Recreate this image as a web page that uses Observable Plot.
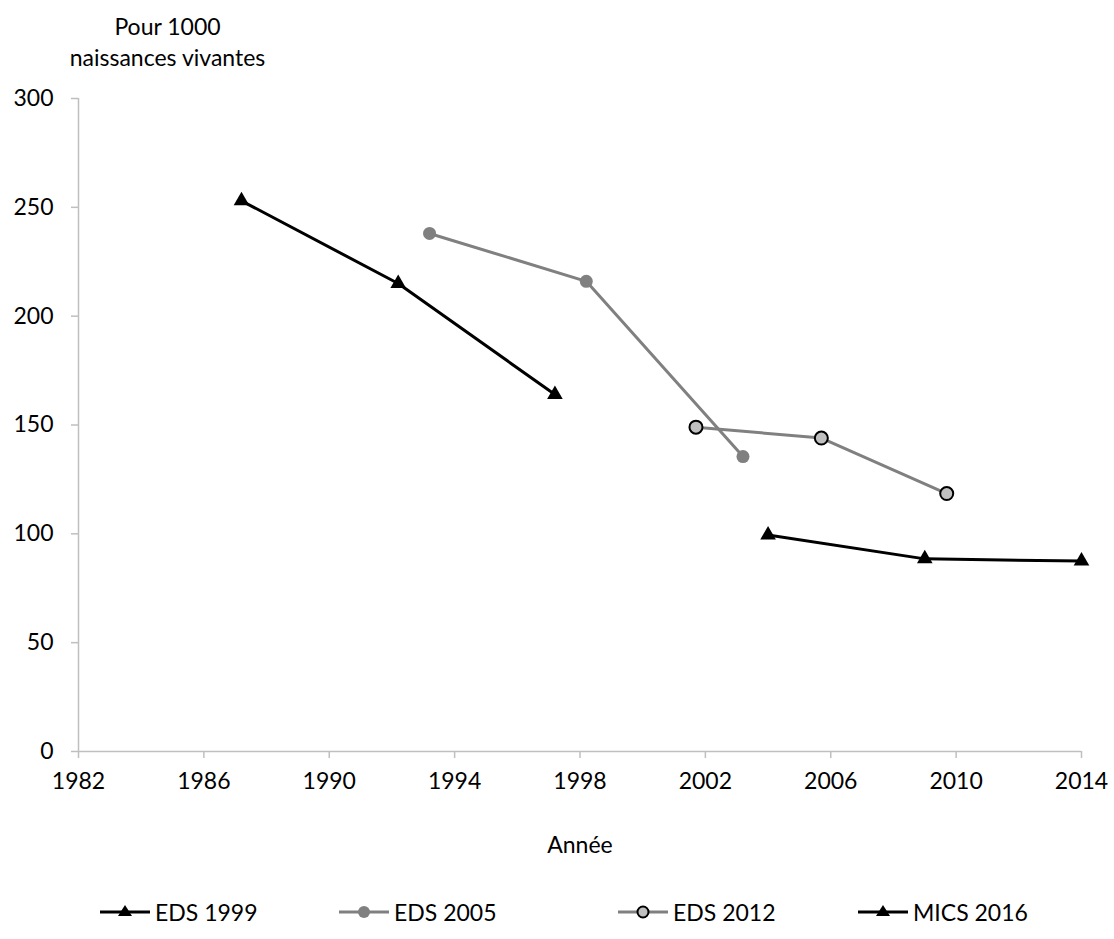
<!DOCTYPE html>
<html>
<head>
<meta charset="utf-8">
<script src="https://cdn.jsdelivr.net/npm/d3@7"></script>
<script src="https://cdn.jsdelivr.net/npm/@observablehq/plot@0.6"></script>
<style>
  body { margin: 0; background: #fff; font-family: Lato, "Open Sans", sans-serif; }
  #wrap { position: relative; width: 1114px; height: 939px; }
  #legend { position: absolute; left: 0; top: 897px; width: 1114px; height: 30px; }
  .item { position: absolute; top: 0; display: flex; align-items: center; font-size: 23px; color: #000; height: 30px; }
  .item svg { margin-right: 5px; }
</style>
</head>
<body>
<div id="wrap"><div id="chart"></div><div id="legend"></div></div>
<script>
// ---- data ----
const xTicks = [1982, 1986, 1990, 1994, 1998, 2002, 2006, 2010, 2014];
const yTicks = [0, 50, 100, 150, 200, 250, 300];

const eds1999Years = [1987.2, 1992.2, 1997.2];
const eds1999Values = [253, 215, 164];

const eds2005Years = [1993.2, 1998.2, 2003.2];
const eds2005Values = [238, 216, 135.5];

const eds2012Years = [2001.7, 2005.7, 2009.7];
const eds2012Values = [149, 144, 118.5];

const mics2016Years = [2004, 2009, 2014];
const mics2016Values = [99.5, 88.5, 87.5];

const seriesNames = ["EDS 1999", "EDS 2005", "EDS 2012", "MICS 2016"];
const yLabel = "Pour 1000\nnaissances vivantes";
const xLabel = "Année";

// ---- build tables ----
const toRows = (ys, vs) => ys.map((y, i) => ({year: y, value: vs[i]}));
const d1999 = toRows(eds1999Years, eds1999Values);
const d2005 = toRows(eds2005Years, eds2005Values);
const d2012 = toRows(eds2012Years, eds2012Values);
const d2016 = toRows(mics2016Years, mics2016Values);

const axisGray = "#bfbfbf";
const lineGray = "#808080";

const chart = Plot.plot({
  width: 1114,
  height: 870,
  marginLeft: 78,
  marginRight: 33,
  marginTop: 98,
  marginBottom: 119,
  style: {fontFamily: "Lato, 'Open Sans', sans-serif", fontSize: "23px", color: "#000", overflow: "visible"},
  x: {domain: [1982, 2014]},
  y: {domain: [0, 300]},
  marks: [
    Plot.axisY({ticks: yTicks, tickSize: 7, tickPadding: 18, stroke: axisGray, strokeWidth: 1.5, fill: "#000", label: null}),
    Plot.axisX({ticks: xTicks, tickSize: 7, tickPadding: 14, tickFormat: "d", stroke: axisGray, strokeWidth: 1.5, fill: "#000", label: null}),
    Plot.ruleY([0], {stroke: axisGray, strokeWidth: 1.5}),
    Plot.ruleX([1982], {stroke: axisGray, strokeWidth: 1.5}),
    Plot.text([yLabel], {frameAnchor: "top-left", dx: 89, dy: -58, textAnchor: "middle", lineAnchor: "middle", lineHeight: 1.35, fill: "#000"}),
    Plot.text([xLabel], {frameAnchor: "bottom", dy: 94, lineAnchor: "middle", fill: "#000"}),
    // EDS 1999
    Plot.line(d1999, {x: "year", y: "value", stroke: "#000", strokeWidth: 3}),
    Plot.dot(d1999, {x: "year", y: "value", symbol: "triangle", r: 5.8, fill: "#000"}),
    // EDS 2005
    Plot.line(d2005, {x: "year", y: "value", stroke: lineGray, strokeWidth: 3}),
    Plot.dot(d2005, {x: "year", y: "value", r: 6.5, fill: lineGray}),
    // EDS 2012
    Plot.line(d2012, {x: "year", y: "value", stroke: lineGray, strokeWidth: 3}),
    Plot.dot(d2012, {x: "year", y: "value", r: 6.5, fill: "#c0c0c0", stroke: "#000", strokeWidth: 2}),
    // MICS 2016
    Plot.line(d2016, {x: "year", y: "value", stroke: "#000", strokeWidth: 3}),
    Plot.dot(d2016, {x: "year", y: "value", symbol: "triangle", r: 5.8, fill: "#000"})
  ]
});
document.getElementById("chart").appendChild(chart);

// ---- legend ----
const legendStyles = [
  {stroke: "#000", marker: "triangle", fill: "#000", mstroke: "none"},
  {stroke: lineGray, marker: "circle", fill: lineGray, mstroke: "none"},
  {stroke: lineGray, marker: "circle", fill: "#c0c0c0", mstroke: "#000"},
  {stroke: "#000", marker: "triangle", fill: "#000", mstroke: "none"}
];
const legendLeft = [100, 339, 618, 858];
const legend = document.getElementById("legend");
seriesNames.forEach((name, i) => {
  const s = legendStyles[i];
  const div = document.createElement("div");
  div.className = "item";
  div.style.left = legendLeft[i] + "px";
  let marker;
  if (s.marker === "triangle") {
    marker = `<path d="M25,8 L32,19 L18,19 Z" fill="${s.fill}"/>`;
  } else {
    marker = `<circle cx="25" cy="15" r="${s.mstroke === "none" ? 6 : 5.5}" fill="${s.fill}" stroke="${s.mstroke}" stroke-width="2"/>`;
  }
  div.innerHTML = `<svg width="50" height="30"><line x1="0" x2="50" y1="15" y2="15" stroke="${s.stroke}" stroke-width="3"/>${marker}</svg><span>${name}</span>`;
  legend.appendChild(div);
});
</script>
</body>
</html>
